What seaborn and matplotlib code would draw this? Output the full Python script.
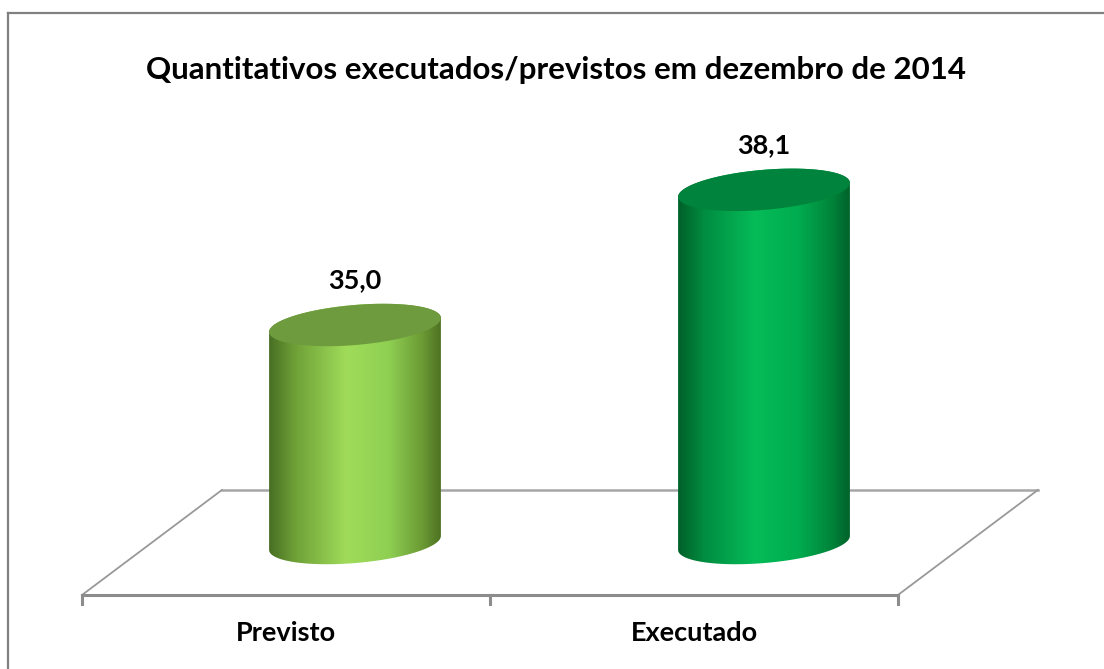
import numpy as np
import matplotlib
matplotlib.use("Agg")
import matplotlib.pyplot as plt
import seaborn as sns
from matplotlib.colors import LinearSegmentedColormap
from matplotlib.patches import Polygon
from matplotlib.lines import Line2D


# -----------------------------
# DATA
# -----------------------------
categories = ["Previsto", "Executado"]
values = [35.0, 38.1]
title = "Quantitativos executados/previstos em dezembro de 2014"
axis_min = 30.0

# side shading (dark edge -> light -> dark edge) and top cap colour
side_colors = [
    ["#486E23", "#6EA037", "#A0DC5A", "#8ECF52", "#6A9833", "#4E7222"],
    ["#005F28", "#008C41", "#05BC58", "#00AC4F", "#00833A", "#00622A"],
]
top_colors = ["#6E9B3E", "#00833C"]
stops = [0.0, 0.15, 0.45, 0.7, 0.9, 1.0]

FONT = "Lato"

# -----------------------------
# LAYOUT (pixel mapping of the 3D frame)
# -----------------------------
W, H = 1104, 669
px_per_x, px_per_y = 409.0, 43.6
x0_px, y0_px = 355.0, 543.0   # pixel of (category 0, axis_min)

bar_width = 0.42
cap_b = 0.46      # half height of the elliptical cap (data units)
cap_lift = 0.16   # tilt of the cap: right side higher
depth = 0.342     # horizontal shift between front and back edge of the floor
floor_front = axis_min - 52 / px_per_y
floor_back = axis_min + 53 / px_per_y
left_front = -0.6675
front_width = 1.995


def ellipse_pts(cx, cy, a, t):
    return np.column_stack([cx + a * np.cos(t),
                            cy + cap_b * np.sin(t) + cap_lift * np.cos(t)])


def draw_cylinder(ax, patch, colors, top_color):
    a = patch.get_width() / 2
    cx = patch.get_x() + a
    base = patch.get_y()
    top = base + patch.get_height()

    bottom_half = ellipse_pts(cx, base, a, np.linspace(np.pi, 2 * np.pi, 80))
    upper_half = ellipse_pts(cx, top, a, np.linspace(0, np.pi, 80))
    side = Polygon(np.vstack([bottom_half, upper_half]), closed=True,
                   transform=ax.transData)

    cmap = LinearSegmentedColormap.from_list("side", list(zip(stops, colors)))
    grad = np.linspace(0, 1, 256)[None, :]
    im = ax.imshow(grad, cmap=cmap, aspect="auto", interpolation="bicubic",
                   extent=(cx - a, cx + a, base - 1, top + 1),
                   origin="lower", zorder=2)
    im.set_clip_path(side)

    cap = ellipse_pts(cx, top, a, np.linspace(0, 2 * np.pi, 160))
    ax.add_patch(Polygon(cap, closed=True, facecolor=top_color,
                         edgecolor="none", zorder=3))


fig = plt.figure(figsize=(W / 100, H / 100), dpi=100)
ax = fig.add_axes([0, 0, 1, 1])

sns.barplot(x=categories, y=values, width=bar_width, ax=ax)

# bars start at the axis minimum, drawn as cylinders
for patch, v, cols, tc in zip(ax.patches, values, side_colors, top_colors):
    patch.set_y(axis_min)
    patch.set_height(v - axis_min)
    patch.set_visible(False)
    draw_cylinder(ax, patch, cols, tc)

ax.set_xlim((0 - x0_px) / px_per_x, (W - x0_px) / px_per_x)
ax.set_ylim(axis_min - (H - y0_px) / px_per_y, axis_min + y0_px / px_per_y)
ax.axis("off")

# floor of the 3D plot
n = len(categories)
right_front = left_front + front_width
ax.plot([left_front + depth, right_front + depth], [floor_back, floor_back],
        color="#A6A6A6", lw=1.8, zorder=1)
ax.plot([left_front, left_front + depth], [floor_front, floor_back],
        color="#999999", lw=1.3, zorder=1)
ax.plot([right_front, right_front + depth], [floor_front, floor_back],
        color="#999999", lw=1.3, zorder=1)
ax.plot([left_front, right_front], [floor_front, floor_front],
        color="#8C8C8C", lw=2.2, zorder=1)
step = front_width / n
tick_len = 9 / px_per_y
for k in range(n + 1):
    xt = left_front + k * step
    ax.plot([xt, xt], [floor_front, floor_front - tick_len],
            color="#8C8C8C", lw=2.2, zorder=1)

# category labels on the front edge
for k, name in enumerate(categories):
    ax.text(left_front + (k + 0.5) * step, floor_front - 38 / px_per_y, name,
            ha="center", va="center", fontsize=19.5, fontweight="bold",
            family=FONT, color="black")

# value labels
for k, v in enumerate(values):
    ax.text(k, v + 1.02, f"{v:.1f}".replace(".", ","), ha="center",
            va="center", fontsize=19.5, fontweight="bold", family=FONT,
            color="black")

fig.text(556 / W, 1 - 70 / H, title, ha="center", va="center",
         fontsize=22.5, fontweight="bold", family=FONT, color="black")

# chart frame (top and left edge visible)
fig.add_artist(Line2D([8 / W, 1], [1 - 13 / H, 1 - 13 / H],
                      transform=fig.transFigure, color="#808080", lw=1.6))
fig.add_artist(Line2D([8 / W, 8 / W], [0, 1 - 13 / H],
                      transform=fig.transFigure, color="#808080", lw=1.6))

fig.savefig("out.png", dpi=100)
